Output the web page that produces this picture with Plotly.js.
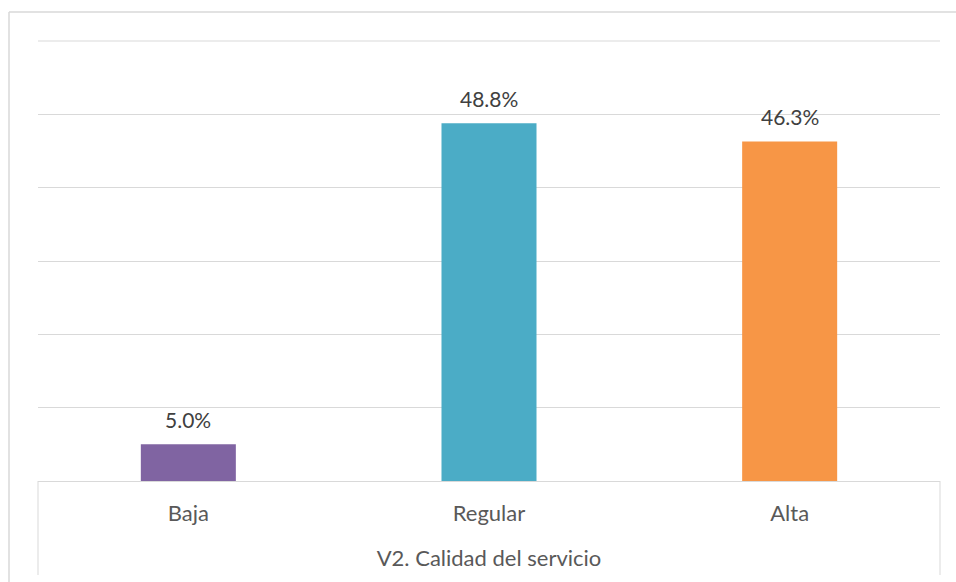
<!DOCTYPE html>
<html><head><meta charset="utf-8">
<script src="https://cdn.plot.ly/plotly-3.0.1.min.js"></script>
<style>html,body{margin:0;padding:0;background:#fff}#c{width:956px;height:582px}</style>
</head><body><div id="c"></div>
<script>
const categories = ["Baja", "Regular", "Alta"];
const values = [5.0, 48.8, 46.3];
const labels = ["5.0%", "48.8%", "46.3%"];
const colors = ["#8064A2", "#4BACC6", "#F79646"];
const axisTitle = "V2. Calidad del servicio";

const FONT = "Lato, Open Sans, sans-serif";
const grid = "#d9d9d9";

const trace = {
  type: "bar", x: categories, y: values,
  marker: {color: colors}, width: 0.316,
  hoverinfo: "none"
};

const annotations = categories.map((c, i) => ({
  x: c, y: values[i], xref: "x", yref: "y", text: labels[i],
  showarrow: false, yanchor: "bottom", yshift: 10,
  font: {family: FONT, size: 21, color: "#404040"}
}));

const H = 440, W = 902;
const shapes = [
  {type: "line", xref: "paper", yref: "paper", x0: 0, x1: 1, y0: 1, y1: 1, line: {color: grid, width: 1}},
  {type: "line", xref: "paper", yref: "paper", x0: 0, x1: 0, y0: 0, y1: -94/H, line: {color: grid, width: 1}},
  {type: "line", xref: "paper", yref: "paper", x0: 1, x1: 1, y0: 0, y1: -94/H, line: {color: grid, width: 1}},
  {type: "line", xref: "paper", yref: "paper", x0: -29/W, x1: -29/W, y0: (481-12)/H, y1: -110/H, line: {color: grid, width: 1.5}},
  {type: "line", xref: "paper", yref: "paper", x0: -29/W, x1: 1.1, y0: (481-12)/H, y1: (481-12)/H, line: {color: grid, width: 1.5}}
];

const layout = {
  width: 956, height: 582,
  margin: {l: 38, r: 16, t: 41, b: 101},
  paper_bgcolor: "#fff", plot_bgcolor: "#fff",
  showlegend: false,
  xaxis: {
    type: "category", showgrid: false, zeroline: false,
    showline: true, linecolor: grid, linewidth: 1,
    ticks: "", ticklabelstandoff: 13,
    tickfont: {family: FONT, size: 22, color: "#595959"},
    title: {text: axisTitle, standoff: 25, font: {family: FONT, size: 22, color: "#595959"}}
  },
  yaxis: {
    range: [0, 60], dtick: 10, showticklabels: false, ticks: "",
    showgrid: true, gridcolor: grid, gridwidth: 1,
    zeroline: false, showline: false
  },
  annotations: annotations,
  shapes: shapes
};

Plotly.newPlot("c", [trace], layout, {staticPlot: true, displayModeBar: false});
</script></body></html>
